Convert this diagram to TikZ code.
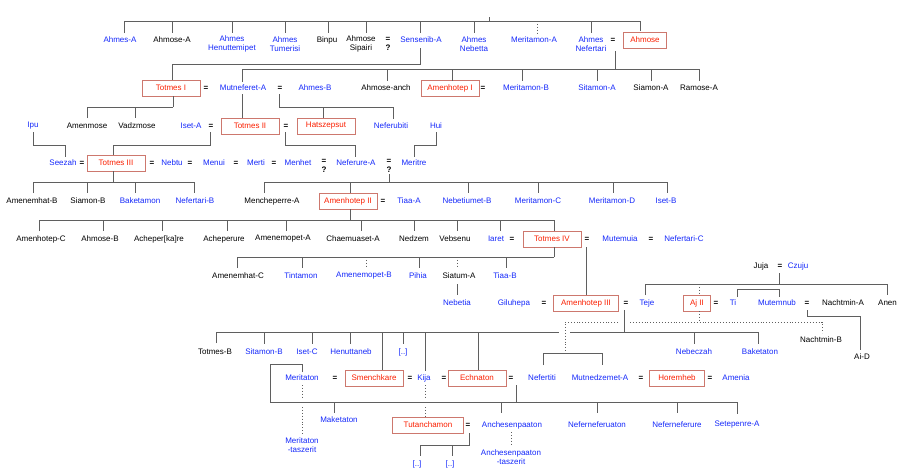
\documentclass[tikz,border=0pt]{standalone}
\usepackage{fontspec}
\setmainfont{Liberation Sans}
\definecolor{nblue}{RGB}{20,40,250}
\definecolor{nred}{RGB}{250,30,0}
\definecolor{bxc}{RGB}{205,120,110}
\definecolor{lnc}{RGB}{95,95,95}
\begin{document}
\begin{tikzpicture}[x=1pt,y=-1pt,font=\fontsize{8}{8.5}\selectfont,
 bl/.style={text=nblue,inner sep=1pt,align=center},
 bk/.style={text=black,inner sep=1pt,align=center},
 bx/.style={draw=bxc,line width=0.9pt,text=nred,minimum width=58pt,minimum height=16pt,inner sep=1pt},
 eq/.style={text=black,inner sep=0pt,align=center,font=\fontsize{8}{8.5}\selectfont\bfseries},
 ln/.style={draw=lnc,line width=0.9pt},
 dt/.style={draw=lnc,line width=0.9pt,dotted}]
\useasboundingbox (0,0) rectangle (900,469);
% row 1
\node[bl] (ahmesA) at (120,40) {Ahmes-A};
\node[bk] (ahmoseA) at (172,40) {Ahmose-A};
\node[bl] (henut) at (232,44) {Ahmes\\Henuttemipet};
\node[bl] (tumer) at (285,44) {Ahmes\\Tumerisi};
\node[bk] (binpu) at (327,40) {Binpu};
\node[bk] (sipairi) at (361,44) {Ahmose\\Sipairi};
\node[eq] (q1) at (388,44) {=\\?};
\node[bl] (sensenib) at (421,40) {Sensenib-A};
\node[bl] (nebetta) at (474,44) {Ahmes\\Nebetta};
\node[bl] (meritamonA) at (534,40) {Meritamon-A};
\node[bl] (nefertari) at (591,44) {Ahmes\\Nefertari};
\node[eq] (e1) at (613,40) {=};
\node[bx,minimum width=43pt] (ahmose) at (645,40) {Ahmose};
% row 2
\node[bx] (totmes1) at (171,88) {Totmes I};
\node[eq] at (206,88) {=};
\node[bl] (mutnef) at (243,88) {Mutneferet-A};
\node[eq] at (280,88) {=};
\node[bl] (ahmesB) at (315,88) {Ahmes-B};
\node[bk] (anch) at (386,88) {Ahmose-anch};
\node[bx] (amenh1) at (450,88) {Amenhotep I};
\node[eq] at (483,88) {=};
\node[bl] (meritamonB) at (526,88) {Meritamon-B};
\node[bl] (sitamonA) at (597,88) {Sitamon-A};
\node[bk] (siamonA) at (651,88) {Siamon-A};
\node[bk] (ramoseA) at (699,88) {Ramose-A};
% row 3
\node[bl] (ipu) at (33,126) {Ipu};
\node[bk] (amenmose) at (87,126) {Amenmose};
\node[bk] (vadz) at (137,126) {Vadzmose};
\node[bl] (isetA) at (191,126) {Iset-A};
\node[eq] at (211,126) {=};
\node[bx] (totmes2) at (250,126) {Totmes II};
\node[eq] at (286,126) {=};
\node[bx] (hats) at (326,126) {Hatszepsut};
\node[bl] (neferubiti) at (391,126) {Neferubiti};
\node[bl] (hui) at (436,126) {Hui};
% row 4
\node[bl] (seezah) at (63,163) {Seezah};
\node[eq] at (82,163) {=};
\node[bx] (totmes3) at (116,163) {Totmes III};
\node[eq] at (152,163) {=};
\node[bl] (nebtu) at (172,163) {Nebtu};
\node[eq] at (190,163) {=};
\node[bl] (menui) at (214,163) {Menui};
\node[eq] at (236,163) {=};
\node[bl] (merti) at (256,163) {Merti};
\node[eq] at (274,163) {=};
\node[bl] (menhet) at (298,163) {Menhet};
\node[eq] (q2) at (324,166) {=\\?};
\node[bl] (neferure) at (356,163) {Neferure-A};
\node[eq] (q3) at (389,166) {=\\?};
\node[bl] (meritre) at (414,163) {Meritre};
% row 5
\node[bk] (amenemhatB) at (32,201) {Amenemhat-B};
\node[bk] (siamonB) at (88,201) {Siamon-B};
\node[bl] (baketamon) at (140,201) {Baketamon};
\node[bl] (nefertariB) at (195,201) {Nefertari-B};
\node[bk] (menchep) at (272,201) {Mencheperre-A};
\node[bx] (amenh2) at (348,201) {Amenhotep II};
\node[eq] at (383,201) {=};
\node[bl] (tiaaA) at (409,201) {Tiaa-A};
\node[bl] (nebetiumet) at (467,201) {Nebetiumet-B};
\node[bl] (meritamonC) at (538,201) {Meritamon-C};
\node[bl] (meritamonD) at (612,201) {Meritamon-D};
\node[bl] (isetB) at (666,201) {Iset-B};
% row 6
\node[bk] (amenhC) at (41,239) {Amenhotep-C};
\node[bk] (ahmoseB) at (100,239) {Ahmose-B};
\node[bk] (acheperka) at (159,239) {Acheper[ka]re};
\node[bk] (acheperure) at (224,239) {Acheperure};
\node[bk] (amenemopetA) at (283,239) {Amenemopet-A};
\node[bk] (chaem) at (353,239) {Chaemuaset-A};
\node[bk] (nedzem) at (414,239) {Nedzem};
\node[bk] (vebsenu) at (455,239) {Vebsenu};
\node[bl] (iaret) at (496,239) {Iaret};
\node[eq] at (512,239) {=};
\node[bx] (totmes4) at (552,239) {Totmes IV};
\node[eq] at (587,239) {=};
\node[bl] (mutemuia) at (620,239) {Mutemuia};
\node[eq] at (651,239) {=};
\node[bl] (nefertariC) at (684,239) {Nefertari-C};
% row 7
\node[bk] (amenemhatC) at (238,276) {Amenemhat-C};
\node[bl] (tintamon) at (301,276) {Tintamon};
\node[bl] (amenemopetB) at (364,276) {Amenemopet-B};
\node[bl] (pihia) at (418,276) {Pihia};
\node[bk] (siatum) at (459,276) {Siatum-A};
\node[bl] (tiaaB) at (505,276) {Tiaa-B};
\node[bk] (juja) at (761,266) {Juja};
\node[eq] at (780,266) {=};
\node[bl] (czuju) at (798,266) {Czuju};
% row 8
\node[bl] (nebetia) at (457,303) {Nebetia};
\node[bl] (giluhepa) at (514,303) {Giluhepa};
\node[eq] at (544,303) {=};
\node[bx,minimum width=65pt] (amenh3) at (586,303) {Amenhotep III};
\node[eq] at (626,303) {=};
\node[bl] (teje) at (647,303) {Teje};
\node[bx,minimum width=27pt] (aj2) at (697,303) {Aj II};
\node[eq] at (716,303) {=};
\node[bl] (ti) at (733,303) {Ti};
\node[bl] (mutemnub) at (777,303) {Mutemnub};
\node[eq] at (807,303) {=};
\node[bk] (nachtminA) at (843,303) {Nachtmin-A};
\node[bk,anchor=west] (anen) at (877,303) {Anen};
% row 9
\node[bk] (totmesB) at (215,352) {Totmes-B};
\node[bl] (sitamonB) at (264,352) {Sitamon-B};
\node[bl] (isetC) at (307,352) {Iset-C};
\node[bl] (henuttaneb) at (351,352) {Henuttaneb};
\node[bl] (dots1) at (403,352) {[..]};
\node[bl] (nebeczah) at (694,352) {Nebeczah};
\node[bl] (baketaton) at (760,352) {Baketaton};
\node[bk] (nachtminB) at (821,340) {Nachtmin-B};
\node[bk] (aiD) at (862,357) {Ai-D};
% row 10
\node[bl] (meritaton) at (302,378) {Meritaton};
\node[eq] at (335,378) {=};
\node[bx] (smench) at (374,378) {Smenchkare};
\node[eq] at (410,378) {=};
\node[bl] (kija) at (424,378) {Kija};
\node[eq] at (444,378) {=};
\node[bx] (echnaton) at (477,378) {Echnaton};
\node[eq] at (511,378) {=};
\node[bl] (nefertiti) at (542,378) {Nefertiti};
\node[bl] (mutnedz) at (600,378) {Mutnedzemet-A};
\node[eq] at (641,378) {=};
\node[bx,minimum width=55pt] (horemheb) at (677,378) {Horemheb};
\node[eq] at (710,378) {=};
\node[bl] (amenia) at (736,378) {Amenia};
% row 11
\node[bl] (maketaton) at (339,420) {Maketaton};
\node[bx,minimum width=71pt] (tutanch) at (428,425) {Tutanchamon};
\node[eq] at (468,425) {=};
\node[bl] (anches) at (512,425) {Anchesenpaaton};
\node[bl] (neferneferuaton) at (597,425) {Neferneferuaton};
\node[bl] (neferneferure) at (677,425) {Neferneferure};
\node[bl] (setepenre) at (737,425) {Setepenre-A};
\node[bl] (meritatonT) at (302,445) {Meritaton\\-taszerit};
\node[bl] (anchesT) at (511,457) {Anchesenpaaton\\-taszerit};
\node[bl] (dots2) at (417,464) {[..]};
\node[bl] (dots3) at (450,464) {[..]};
% ---- connectors
\draw[ln] (489,17) -- (489,21);
\draw[ln] (124,33) -- (124,21) -- (640,21) -- (640,31);
\foreach \x in {172,232,285,328,366,420,474,591} \draw[ln] (\x,21) -- (\x,33);
\draw[dt] (537,21) -- (537,33);
\draw[ln] (420,48) -- (420,64) -- (172,64) -- (172,80);
\draw[ln] (615,51) -- (615,69);
\draw[ln] (242,82) -- (242,69) -- (699,69) -- (699,81);
\foreach \x in {387,452,522,597,651} \draw[ln] (\x,69) -- (\x,81);
\draw[ln] (173,96) -- (173,107); \draw[ln] (87,118) -- (87,107) -- (173,107); \draw[ln] (135,107) -- (135,118);
\draw[ln] (242,94) -- (242,118);
\draw[ln] (279,94) -- (279,107) -- (393,107) -- (393,119); \draw[ln] (323,107) -- (323,118);
\draw[ln] (33,132) -- (33,145) -- (65,145) -- (65,157);
\draw[ln] (210,132) -- (210,145) -- (113,145) -- (113,155);
\draw[ln] (285,132) -- (285,145) -- (355,145) -- (355,157);
\draw[ln] (436,132) -- (436,145) -- (414,145) -- (414,157);
\draw[ln] (113,171) -- (113,182); \draw[ln] (33,193) -- (33,182) -- (194,182) -- (194,193);
\foreach \x in {87,135} \draw[ln] (\x,182) -- (\x,193);
\draw[ln] (389,174) -- (389,182); \draw[ln] (264,193) -- (264,182) -- (667,182) -- (667,193);
\foreach \x in {468,538,613} \draw[ln] (\x,182) -- (\x,193);
\draw[ln] (350,182) -- (350,193);
\draw[ln] (350,209) -- (350,220); \draw[ln] (39,231) -- (39,220) -- (554,220) -- (554,231);
\foreach \x in {103,162,227,286,361,414,457,500} \draw[ln] (\x,220) -- (\x,231);
\draw[ln] (554,247) -- (554,257); \draw[ln] (237,268) -- (237,257) -- (554,257);
\foreach \x in {302,419,506} \draw[ln] (\x,257) -- (\x,268);
\foreach \x in {366,457} \draw[dt] (\x,257) -- (\x,268);
\draw[ln] (457,284) -- (457,295);
\draw[ln] (586,247) -- (586,295);
\draw[ln] (779,273) -- (779,284); \draw[ln] (645,295) -- (645,284) -- (887,284) -- (887,295);
\draw[dt] (699,284) -- (699,295); \draw[dt] (699,311) -- (699,322);
\draw[ln] (737,297) -- (737,289) -- (779,289) -- (779,297);
\draw[ln] (807,310) -- (807,316) -- (860,316) -- (860,350);
\draw[dt] (618,322) -- (565,322) -- (565,353); \draw[dt] (630,322) -- (822,322) -- (822,333);
\draw[ln] (624,310) -- (624,332);
\draw[ln] (216,343) -- (216,332) -- (559,332); \draw[ln] (570,332) -- (758,332) -- (758,344);
\foreach \x in {264,312,350,403,694} \draw[ln] (\x,332) -- (\x,344);
\draw[ln] (382,332) -- (382,370); \draw[ln] (425,332) -- (425,371); \draw[ln] (478,332) -- (478,370);
\draw[ln] (543,365) -- (543,353) -- (602,353) -- (602,365);
\draw[ln] (302,372) -- (302,364) -- (270,364) -- (270,402) -- (737,402) -- (737,414);
\draw[ln] (516,385) -- (516,402);
\foreach \x in {334,501,597,677} \draw[ln] (\x,402) -- (\x,413);
\draw[dt] (302,385) -- (302,397); \draw[dt] (302,407) -- (302,435);
\draw[dt] (425,385) -- (425,397); \draw[dt] (425,407) -- (425,417);
\draw[dt] (511,432) -- (511,444);
\draw[ln] (469,433) -- (469,445) -- (420,445) -- (420,456); \draw[ln] (452,445) -- (452,456);
\end{tikzpicture}
\end{document}
